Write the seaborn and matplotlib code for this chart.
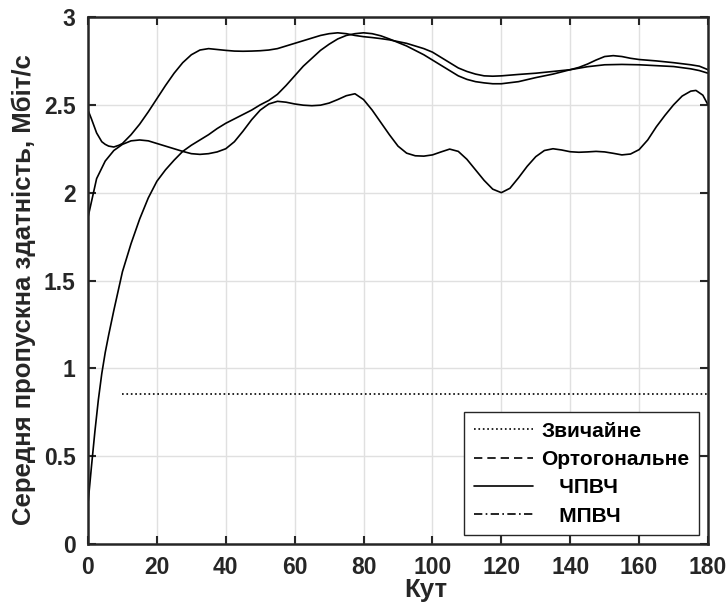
import numpy as np
import pandas as pd
import matplotlib
matplotlib.use("Agg")
import matplotlib.pyplot as plt
from matplotlib.lines import Line2D
import seaborn as sns

# ---- data ----
x_conv = [10, 180]
y_conv = [0.855, 0.855]   # Звичайне

x_orth = [0, 1, 2, 3, 4, 5, 6, 7.5, 10, 12.5, 15, 17.5, 20, 22.5, 25, 27.5, 30, 32.5,
          35, 37.5, 40, 42.5, 45, 47.5, 50, 52.5, 55, 57.5, 60, 62.5, 65, 67.5, 70,
          72.5, 75, 77.5, 80, 82.5, 85, 87.5, 90, 92.5, 95, 97.5, 100, 102.5, 105,
          107.5, 110, 112.5, 115, 117.5, 120, 125, 130, 135, 140, 142.5, 145, 147.5,
          150, 152.5, 155, 157.5, 160, 165, 170, 175, 177.5, 180]
y_orth = [0.23, 0.44, 0.64, 0.82, 0.97, 1.09, 1.19, 1.33, 1.55, 1.71, 1.85, 1.97,
          2.065, 2.13, 2.185, 2.235, 2.27, 2.30, 2.33, 2.365, 2.395, 2.42, 2.445,
          2.47, 2.50, 2.525, 2.56, 2.61, 2.665, 2.72, 2.765, 2.81, 2.845, 2.875,
          2.895, 2.905, 2.91, 2.905, 2.893, 2.875, 2.855, 2.835, 2.81, 2.785, 2.755,
          2.725, 2.695, 2.665, 2.645, 2.632, 2.625, 2.62, 2.62, 2.632, 2.655, 2.675,
          2.70, 2.713, 2.732, 2.755, 2.775, 2.78, 2.775, 2.765, 2.758, 2.75, 2.74,
          2.728, 2.72, 2.70]   # Ортогональне

x_chpvch = [0, 1, 2.5, 4, 5, 6, 7.5, 9, 10, 12.5, 15, 17.5, 20, 22.5, 25, 27.5, 30,
            32.5, 35, 37.5, 40, 42.5, 45, 47.5, 50, 52.5, 55, 57.5, 60, 62.5, 65, 67.5,
            70, 72.5, 75, 77.5, 80, 82.5, 85, 87.5, 90, 92.5, 95, 97.5, 100, 102.5,
            105, 107.5, 110, 112.5, 115, 117.5, 120, 125, 130, 135, 140, 145, 150,
            155, 160, 165, 170, 175, 177.5, 180]
y_chpvch = [2.47, 2.42, 2.34, 2.29, 2.275, 2.265, 2.26, 2.27, 2.28, 2.33, 2.39, 2.46,
            2.535, 2.61, 2.68, 2.74, 2.785, 2.812, 2.82, 2.815, 2.81, 2.806, 2.805,
            2.806, 2.808, 2.812, 2.82, 2.835, 2.85, 2.865, 2.88, 2.895, 2.905, 2.91,
            2.905, 2.895, 2.888, 2.883, 2.877, 2.87, 2.86, 2.85, 2.835, 2.82, 2.80,
            2.77, 2.74, 2.71, 2.69, 2.675, 2.665, 2.663, 2.665, 2.673, 2.68, 2.69,
            2.70, 2.717, 2.728, 2.73, 2.728, 2.723, 2.718, 2.705, 2.695, 2.68]   # ЧПВЧ

x_mpvch = [0, 2.5, 5, 7.5, 10, 12.5, 15, 17.5, 20, 22.5, 25, 27.5, 30, 32.5, 35, 37.5,
           40, 42.5, 45, 47.5, 50, 52.5, 55, 57.5, 60, 62.5, 65, 67.5, 70, 72.5, 75,
           77.5, 80, 82.5, 85, 87.5, 90, 92.5, 95, 97.5, 100, 102.5, 105, 107.5, 110,
           112.5, 115, 117.5, 120, 122.5, 125, 127.5, 130, 132.5, 135, 137.5, 140,
           142.5, 145, 147.5, 150, 152.5, 155, 157.5, 160, 162.5, 165, 167.5, 170,
           172.5, 175, 176.5, 178.5, 180]
y_mpvch = [1.86, 2.08, 2.18, 2.24, 2.275, 2.295, 2.30, 2.295, 2.28, 2.265, 2.25,
           2.235, 2.222, 2.218, 2.222, 2.232, 2.25, 2.29, 2.35, 2.415, 2.47, 2.505,
           2.52, 2.515, 2.505, 2.498, 2.495, 2.498, 2.51, 2.53, 2.552, 2.563, 2.53,
           2.47, 2.40, 2.33, 2.265, 2.225, 2.21, 2.208, 2.215, 2.232, 2.248, 2.235,
           2.19, 2.13, 2.07, 2.02, 2.00, 2.025, 2.085, 2.15, 2.205, 2.24, 2.25, 2.243,
           2.233, 2.23, 2.232, 2.235, 2.232, 2.224, 2.215, 2.22, 2.245, 2.30, 2.375,
           2.44, 2.50, 2.55, 2.578, 2.582, 2.555, 2.50]   # МПВЧ

labels = ["Звичайне", "Ортогональне", "   ЧПВЧ", "   МПВЧ"]
styles = [":", (0, (5, 3)), "-", (0, (5, 2, 1, 2))]
xticks = [0, 20, 40, 60, 80, 100, 120, 140, 160, 180]
yticks = [0, 0.5, 1, 1.5, 2, 2.5, 3]
ytick_labels = ["0", "0.5", "1", "1.5", "2", "2.5", "3"]
xlabel = "Кут"
ylabel = "Середня пропускна здатність, Мбіт/с"

# ---- plotting ----
sns.set_theme(style="whitegrid")
plt.rcParams["font.family"] = ["Liberation Sans", "DejaVu Sans"]
plt.rcParams["font.weight"] = "bold"

fig = plt.figure(figsize=(7.28, 6.03), dpi=100)
ax = fig.add_axes([88 / 728, 59 / 603, 620 / 728, 527 / 603])

series = [(x_conv, y_conv, ":"), (x_orth, y_orth, "-"),
          (x_chpvch, y_chpvch, "-"), (x_mpvch, y_mpvch, "-")]
for xs, ys, ls in series:
    df = pd.DataFrame({"x": xs, "y": ys})
    sns.lineplot(data=df, x="x", y="y", ax=ax, color="black", linewidth=1.2,
                 linestyle=ls, sort=False, estimator=None)

ax.set_xlim(0, 180)
ax.set_ylim(0, 3)
ax.set_xticks(xticks)
ax.set_xticklabels([str(t) for t in xticks])
ax.set_yticks(yticks)
ax.set_yticklabels(ytick_labels)
ax.grid(True, color="#e0e0e0", linewidth=1.0)
ax.set_facecolor("white")
for s in ax.spines.values():
    s.set_visible(True)
    s.set_color("#262626")
    s.set_linewidth(1.8)
ax.tick_params(axis="both", direction="in", length=6, width=1.5, color="#262626",
               labelsize=16.5, top=True, right=True, left=True, bottom=True,
               labelcolor="#262626")
ax.tick_params(axis="x", pad=9)
ax.tick_params(axis="y", pad=9)
for lab in ax.get_xticklabels() + ax.get_yticklabels():
    lab.set_fontweight("bold")

ax.set_xlabel(xlabel, fontsize=18.5, fontweight="bold", color="#262626")
ax.xaxis.set_label_coords((426 - 88) / 620, (544 - 578) / 527)
ax.set_ylabel(ylabel, fontsize=18.5, fontweight="bold", color="#262626")
ax.yaxis.set_label_coords((36 - 88) / 620, (544 - 290) / 527)

handles = [Line2D([], [], color="black", linewidth=1.2, linestyle=s) for s in styles]
leg = ax.legend(handles, labels, loc="lower right", bbox_to_anchor=(0.9855, 0.017),
                borderaxespad=0.0, frameon=True, fancybox=False, handlelength=2.85,
                handletextpad=0.4, labelspacing=0.45, borderpad=0.45,
                prop={"weight": "bold", "size": 15})
leg.get_frame().set_edgecolor("#262626")
leg.get_frame().set_linewidth(1.0)
leg.get_frame().set_alpha(1.0)
for t in leg.get_texts():
    t.set_color("black")

fig.savefig("out.png", dpi=100, facecolor="white")
